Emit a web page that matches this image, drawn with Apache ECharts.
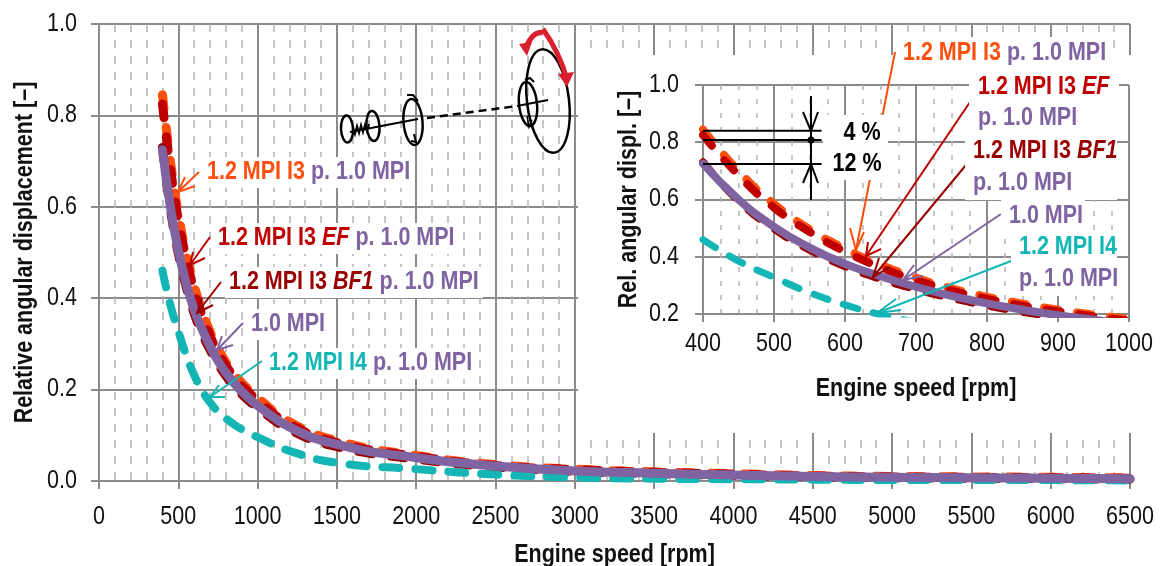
<!DOCTYPE html>
<html>
<head>
<meta charset="utf-8">
<style>html,body{margin:0;padding:0;background:#fff}#c{width:1161px;height:566px}</style>
<script src="https://cdn.jsdelivr.net/npm/echarts@6/dist/echarts.min.js"></script>
</head>
<body>
<div id="c"></div>
<script>
var speeds = [400,450,500,550,600,650,700,750,800,850,900,950,1000,1200,1500,2000,2500,3000,3500,4000,4500,5000,5500,6000,6500];
var i3     = [.845,.70,.585,.497,.428,.372,.327,.290,.260,.236,.215,.198,.182,.130,.088,.056,.036,.026,.020,.016,.012,.010,.009,.008,.007];
var i3EF   = [.825,.685,.572,.487,.418,.363,.318,.282,.253,.229,.209,.192,.176,.125,.084,.054,.034,.025,.019,.015,.011,.009,.008,.007,.006];
var i3BF1  = [.730,.596,.498,.425,.367,.323,.287,.256,.230,.208,.190,.174,.160,.113,.075,.048,.031,.021,.016,.012,.009,.007,.006,.005,.004];
var mpi10  = [.725,.600,.505,.432,.375,.332,.295,.263,.237,.215,.196,.180,.165,.118,.080,.051,.033,.022,.017,.013,.010,.008,.007,.006,.005];
var i4     = [.460,.385,.328,.275,.232,.198,.172,.152,.137,.124,.113,.104,.096,.066,.040,.026,.014,.008,.005,.004,.003,.002,.002,.002,.001];
var refSpeeds = [400,567];
var refI3 = .84, refEF = .808, refMpi = .724;
var mainXTicks = {min:0, max:6500, step:500};
var insetXTicks = {min:400, max:1000, step:100};
var FONT = '"Liberation Sans",Arial,sans-serif';
var SQUEEZE = .86;
var ORANGE='#FF4F0F', EF='#C00000', BF='#990000', PURPLE='#8064A2', TEAL='#14B5B5', AXIS='#8A8A8A', MINOR='#B4B4B4';

function pairs(a){return speeds.map(function(s,i){return [s,a[i]];});}
function axisCommon(z,margin){
  return {
    z:z,
    axisLine:{show:true,onZero:false,lineStyle:{color:AXIS,width:2}},
    axisTick:{show:true,length:8,inside:false,lineStyle:{color:AXIS,width:2}},
    splitLine:{show:true,lineStyle:{color:AXIS,width:2}},
    axisLabel:{fontFamily:FONT,fontSize:25,color:'#111',margin:margin},
    nameLocation:'middle',
    nameMoveOverlap:false,
    nameTextStyle:{fontFamily:FONT,fontSize:25,fontWeight:'bold',color:'#111'}
  };
}
function xAxis(g,t,name,gap,z,minorN,margin,dash){
  var a=axisCommon(z,margin);
  a.type='value';a.gridIndex=g;a.min=t.min;a.max=t.max;a.interval=t.step;a.name=name;a.nameGap=gap;
  a.minorTick={show:false,splitNumber:minorN};
  a.minorSplitLine={show:true,lineStyle:{color:MINOR,width:1.5,type:dash}};
  a.axisLabel.formatter=function(v){return String(v);};
  return a;
}
function yAxis(g,min,name,gap,z,margin){
  var a=axisCommon(z,margin);
  a.type='value';a.gridIndex=g;a.min=min;a.max=1;a.interval=.2;a.name=name;a.nameGap=gap;
  a.axisLabel.formatter=function(v){return v.toFixed(1);};
  return a;
}
function curve(data,color,width,dash,z,g){
  return {type:'line',xAxisIndex:g,yAxisIndex:g,data:pairs(data),smooth:true,showSymbol:false,symbol:'none',z:z,silent:true,
    lineStyle:{color:color,width:width,type:dash||'solid',cap:'round',join:'round'},clip:true};
}
function ref(val){
  return {type:'line',xAxisIndex:1,yAxisIndex:1,data:refSpeeds.map(function(s){return [s,val];}),symbol:'none',showSymbol:false,z:7,silent:true,
    lineStyle:{color:'#000',width:2}};
}
var gfx=[];
function seg(pts,color,w,z,dash){
  gfx.push({type:'polyline',z:z||7,silent:true,shape:{points:pts},style:{stroke:color,lineWidth:w||2,fill:null,lineDash:dash||null}});
}
function arrow(start,tip,b1,b2,color,w){
  seg([start,tip],color,w||2);
  seg([b1,tip,b2],color,w||2);
}
function rect(x,y,w,h,z){
  gfx.push({type:'rect',z:z,silent:true,shape:{x:x,y:y,width:w,height:h},style:{fill:'#fff'}});
}
var richBase={
  o:{fill:ORANGE},oe:{fill:EF},ob:{fill:BF},p:{fill:PURPLE},t:{fill:TEAL},
  oei:{fill:EF,fontStyle:'italic'},obi:{fill:BF,fontStyle:'italic'},k:{fill:'#000'}
};
Object.keys(richBase).forEach(function(k){
  var r=richBase[k];r.fontFamily=FONT;r.fontSize=25;r.fontWeight='bold';if(!r.fontStyle)r.fontStyle='normal';
});
function label(x,y,text,align){
  gfx.push({type:'text',z:9,silent:true,x:x,y:y,style:{text:text,rich:richBase,align:align||'left',verticalAlign:'middle',font:'bold 25px '+FONT}});
}

// big white panel behind the inset
rect(578,55,583,378,1);

// main annotations
rect(203,157,212,31,8); rect(214,223,247,31,8); rect(225,267,258,31,8); rect(247,309,80,31,8); rect(265,348,212,31,8);
arrow([199,172],[178,192],[185,177],[195,186],ORANGE);
arrow([210,237],[190,265],[193,252],[205,258],EF);
arrow([221,282],[197,313],[202,298],[213,305],BF);
arrow([243,323],[217,350],[222,336],[233,345],PURPLE);
arrow([262,361],[210,397],[219,385],[225,397],TEAL);
label(207,172,'{o|1.2 MPI I3} {p|p. 1.0 MPI}');
label(218,238,'{oe|1.2 MPI I3 }{oei|EF}{p| p. 1.0 MPI}');
label(229,282,'{ob|1.2 MPI I3 }{obi|BF1}{p| p. 1.0 MPI}');
label(251,324,'{p|1.0 MPI}');
label(269,363,'{t|1.2 MPI I4} {p|p. 1.0 MPI}');

// inset annotations
arrow([895,52],[856,250],[850,228],[864,232],ORANGE);
arrow([970,102],[866,256],[868,242],[881,249],EF);
arrow([966,165],[873,277],[879,258],[890,267],BF);
arrow([1001,214],[903,280],[914,265],[923,276],PURPLE);
arrow([1011,261],[877,313],[896,299],[901,310],TEAL);
rect(823,115,65,65,8);
rect(899,37,214,33,8); rect(969,70,150,64,8); rect(965,134,152,66,8); rect(1001,200,84,32,8); rect(1011,232,106,64,8);
label(903,53,'{o|1.2 MPI I3} {p|p. 1.0 MPI}');
label(978,87,'{oe|1.2 MPI I3 }{oei|EF}');
label(978,118,'{p|p. 1.0 MPI}');
label(973,151,'{ob|1.2 MPI I3 }{obi|BF1}');
label(973,183,'{p|p. 1.0 MPI}');
label(1009,216,'{p|1.0 MPI}');
label(1019,247,'{t|1.2 MPI I4}');
label(1019,279,'{p|p. 1.0 MPI}');
label(862,133,'{k|4 %}','center');
label(857,164,'{k|12 %}','center');
seg([[811,96],[811,200]],'#000',2,9);
seg([[803,112],[811,131],[818,112]],'#000',2,9);
seg([[803,183],[811,164],[818,183]],'#000',2,9);
gfx.push({type:'circle',z:9,silent:true,shape:{cx:811,cy:140,r:3.5},style:{fill:'#000'}});

// engine sketch
function ell(cx,cy,rx,ry,rot,w){
  gfx.push({type:'ellipse',z:9,silent:true,x:cx,y:cy,rotation:rot||0,shape:{cx:0,cy:0,rx:rx,ry:ry},style:{stroke:'#000',lineWidth:w||2.5,fill:null}});
}
ell(347,129,6,13.5,.05); ell(373,126,6.5,15,.08); ell(413,122,9.5,23,.08); ell(528,104,9,22,.1); ell(548,101,21,52,.12);
seg([[350,132],[418,119]],'#000',2,9);
seg([[427,118],[517,106]],'#000',2.5,9,[8,5]);
seg([[517,106],[548,100]],'#000',2,9);
seg([[353,127],[355,134],[357,126],[359,133],[361,125],[363,132],[365,125],[367,131],[369,124]],'#000',2,9);
seg([[407,95],[413,95],[418,101]],'#000',2,9);
seg([[411,141],[416,142],[414,134]],'#000',2,9);
seg([[525,80],[530,78],[534,82]],'#000',2,9);
seg([[527,116],[529,127],[532,120]],'#000',1.5,9);
function bez(x1,y1,cx1,cy1,cx2,cy2,x2,y2){
  gfx.push({type:'bezierCurve',z:9,silent:true,shape:{x1:x1,y1:y1,x2:x2,y2:y2,cpx1:cx1,cpy1:cy1,cpx2:cx2,cpy2:cy2},style:{stroke:'#D8202E',lineWidth:5,fill:null}});
}
bez(543,33,536,31,530,38,526,47);
bez(543,29,552,42,562,60,567,80);
gfx.push({type:'polygon',z:9,silent:true,shape:{points:[[519,44],[532,42],[527,56]]},style:{fill:'#D8202E'}});
gfx.push({type:'polygon',z:9,silent:true,shape:{points:[[558,74],[574,72],[567,87]]},style:{fill:'#D8202E'}});

var series=[
  curve(i3,ORANGE,9,[14,19],3,0),curve(i3EF,EF,9,[14,19],4,0),curve(i3BF1,BF,9,[14,19],5,0),curve(i4,TEAL,8,[17,16],5,0),curve(mpi10,PURPLE,9,'solid',6,0),
  curve(i3,ORANGE,8,[14,19],3,1),curve(i3EF,EF,8,[14,19],4,1),curve(i3BF1,BF,8,[14,19],5,1),curve(i4,TEAL,7,[15,16],5,1),curve(mpi10,PURPLE,8,'solid',6,1),
  ref(refI3),ref(refEF),ref(refMpi)
];

var chart=echarts.init(document.getElementById('c'),null,{renderer:'canvas'});
chart.setOption({
  animation:false,
  backgroundColor:'#fff',
  grid:[
    {left:99,top:24,width:1031,height:457,containLabel:false,outerBoundsMode:'none'},
    {left:703,top:85,width:426,height:229,containLabel:false,outerBoundsMode:'none'}
  ],
  xAxis:[
    xAxis(0,mainXTicks,'Engine speed [rpm]',62,0,5,24,[8,8]),
    xAxis(1,insetXTicks,'Engine speed [rpm]',63,2,4,18,[5,9])
  ],
  yAxis:[
    yAxis(0,0,'Relative angular displacement [\u2013]',61,0,22),
    yAxis(1,.2,'Rel. angular displ. [\u2013]',61,2,24)
  ],
  series:series,
  graphic:{elements:gfx}
});
// the reference's type is condensed and no condensed face is installed: narrow every text along its own baseline
function squeezeTexts(){
  var zr=chart.getZr();
  zr.storage.traverse(function(el){
    if(el.type==='text'&&el.style&&el.style.text!==undefined&&el.scaleX!==SQUEEZE){el.scaleX=SQUEEZE;el.markRedraw();}
  });
  zr.refresh();
}
squeezeTexts();
</script>
</body>
</html>
